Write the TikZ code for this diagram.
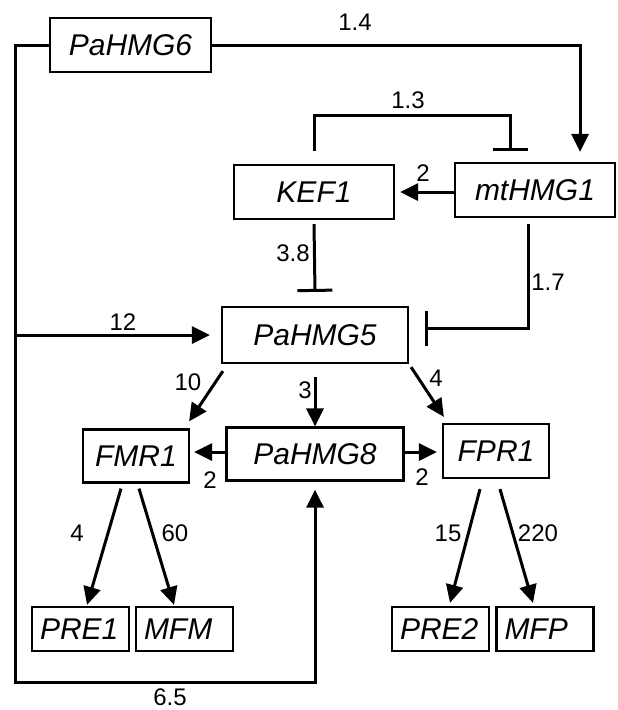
\documentclass[tikz,border=0pt]{standalone}
\usepackage{fontspec}
\setmainfont{Liberation Sans}
\usetikzlibrary{arrows.meta}
\tikzset{
  gene/.style={draw, line width=2.2pt, minimum height=54pt, inner sep=0pt,
    font=\fontsize{30}{36}\selectfont\itshape},
  small/.style={draw, line width=2.2pt, minimum height=44pt, text width=81pt,
    align=left, inner xsep=8pt, inner ysep=0pt, font=\fontsize{30}{36}\selectfont\itshape},
  num/.style={inner sep=0pt, font=\fontsize{24}{29}\selectfont},
  act/.style={line width=3pt, -{Triangle[length=18pt,width=17pt]}},
  inh/.style={line width=3pt, -{Bar[width=35pt]}}
}
\begin{document}
\begin{tikzpicture}[x=1pt,y=-1pt]
  \useasboundingbox (0,0) rectangle (618,710);
  % genes
  \node[gene, minimum width=161pt] (pahmg6) at (130.5,45) {PaHMG6};
  \node[gene, minimum width=160pt] (mthmg1) at (535,190) {mtHMG1};
  \node[gene, minimum width=160pt] (kef1) at (314,192) {KEF1};
  \node[gene, minimum width=186pt, minimum height=56pt] (pahmg5) at (315,335) {PaHMG5};
  \node[gene, minimum width=106pt, minimum height=53pt] (fmr1) at (136,456) {FMR1};
  \node[gene, minimum width=177pt, minimum height=53pt] (pahmg8) at (315,454) {PaHMG8};
  \node[gene, minimum width=106pt] (fpr1) at (496,451) {FPR1};
  \node[small] (pre1) at (80.5,629) {PRE1};
  \node[small] (mfm) at (184.5,629) {MFM};
  \node[small] (pre2) at (440.5,629) {PRE2};
  \node[small] (mfp) at (545,629) {MFP};
  % links
  \draw[act] (pahmg6.east) -| ([xshift=45pt,yshift=10pt]mthmg1.north);
  \draw[act] (pahmg6.west) -| (15,682) -| ([yshift=-8pt]pahmg8.south);
  \draw[act] (15,335) -- ([xshift=-11pt]pahmg5.west);
  \draw[inh] ([yshift=13pt]kef1.north) -- ++(0,-35) -| ([xshift=-25pt,yshift=11pt]mthmg1.north);
  \draw[act] (mthmg1.west |- kef1.east) -- ([xshift=5pt]kef1.east);
  \draw[inh] ([yshift=-4pt]kef1.south) -- ([yshift=14pt]pahmg5.north);
  \draw[inh] ([xshift=-7pt,yshift=-6pt]mthmg1.south) |- ([xshift=16pt,yshift=7pt]pahmg5.east);
  \draw[act] ([xshift=2pt,yshift=-7pt]pahmg5.south west) -- ([xshift=-1pt,yshift=7pt]fmr1.north east);
  \draw[act] ([yshift=-13pt]pahmg5.south) -- (pahmg8.north);
  \draw[act] ([xshift=2pt,yshift=-3pt]pahmg5.south east) -- ([xshift=2pt,yshift=6pt]fpr1.north west);
  \draw[act, shorten >=4pt] ([yshift=2pt]pahmg8.west) -- ([yshift=2pt]pahmg8.west -| fmr1.east);
  \draw[act, shorten >=5pt] ([yshift=2pt]pahmg8.east) -- ([yshift=2pt]pahmg8.east -| fpr1.west);
  \draw[act] ([xshift=-15pt,yshift=-5pt]fmr1.south) -- ([xshift=6.5pt,yshift=1pt]pre1.north);
  \draw[act] ([xshift=3pt,yshift=-5pt]fmr1.south) -- ([xshift=-10.5pt,yshift=1pt]mfm.north);
  \draw[act] ([xshift=-16pt,yshift=-10pt]fpr1.south) -- ([xshift=9.5pt,yshift=3pt]pre2.north);
  \draw[act] ([xshift=4pt,yshift=-10pt]fpr1.south) -- ([xshift=-12pt,yshift=3pt]mfp.north);
  % rates
  \node[num] (r14) at (355,22) {1.4};
  \node[num] (r13) at (408,100) {1.3};
  \node[num] (rkef) at (423,173) {2};
  \node[num] (r38) at (293,253) {3.8};
  \node[num] (r17) at (548,282) {1.7};
  \node[num] (r12) at (123,322) {12};
  \node[num] (r10) at (188,382) {10};
  \node[num] (r3) at (305,390) {3};
  \node[num] (r4) at (436,378) {4};
  \node[num] (rfmr) at (210,480) {2};
  \node[num] (rfpr) at (422,477) {2};
  \node[num] (rpre1) at (77,533) {4};
  \node[num] (rmfm) at (175,533) {60};
  \node[num] (rpre2) at (448,533) {15};
  \node[num] (rmfp) at (538,533) {220};
  \node[num] (r65) at (170,697) {6.5};
\end{tikzpicture}
\end{document}
